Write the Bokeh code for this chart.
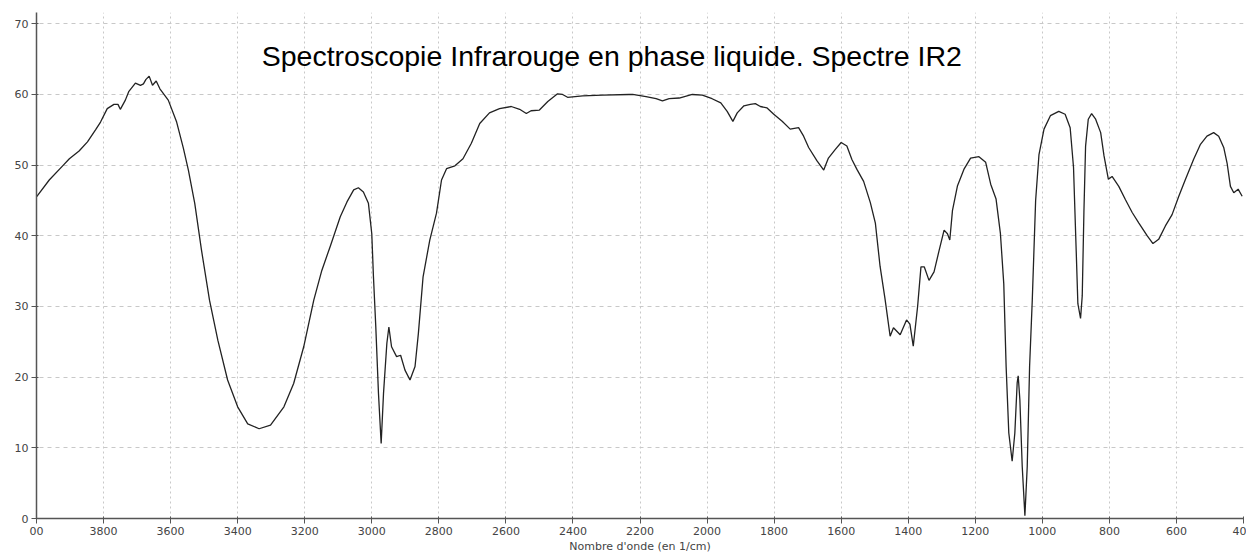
from bokeh.plotting import figure
from bokeh.models import Range1d, FixedTicker, Label
from bokeh.embed import file_html
from bokeh.resources import INLINE

# Wavenumber (1/cm) and transmittance (%)
wavenumber = [
    4000, 3962, 3922, 3902, 3873, 3848, 3824, 3809, 3789, 3769, 3757, 3750, 3735, 3725,
    3705, 3690, 3681, 3674, 3664, 3654, 3643, 3632, 3607, 3582, 3562, 3547, 3528, 3508,
    3484, 3459, 3430, 3400, 3370, 3336, 3302, 3262, 3233, 3203, 3173, 3149,
    3124, 3094, 3074, 3054, 3040, 3025, 3010, 3000, 2995, 2988, 2980, 2972, 2965, 2955,
    2949, 2941, 2926, 2914, 2901, 2886, 2871, 2861, 2847, 2827, 2807, 2792, 2777, 2752,
    2728, 2703, 2678, 2649, 2619, 2584, 2559, 2539, 2525, 2500, 2475, 2446, 2431, 2416,
    2371, 2312, 2233,
    2222, 2182, 2152, 2133, 2113, 2083, 2044, 2014, 1985, 1959, 1940, 1923, 1910, 1890,
    1871, 1856, 1841, 1821, 1801, 1776, 1752, 1727, 1712, 1697, 1672, 1652, 1638, 1618,
    1600, 1583, 1568, 1553, 1533, 1513, 1498, 1484, 1469, 1454, 1444, 1424, 1405, 1395,
    1385,
    1372, 1362, 1352, 1338, 1323, 1308, 1293, 1283, 1276, 1268, 1253, 1234, 1214, 1189,
    1169, 1154, 1138, 1125, 1115, 1108, 1100, 1090, 1082, 1075, 1072, 1067, 1060, 1052,
    1045, 1038, 1030, 1020, 1010, 995, 976, 951, 932, 917, 907, 899, 894,
    886, 881, 876, 871, 863, 853, 841, 826, 816, 803, 792, 772, 752, 732, 712, 687, 670,
    653, 633, 613, 593, 573, 549, 529, 509, 489, 474, 459, 449, 439, 429, 416, 404,
]
transmittance = [
    45.5, 47.9, 49.9, 50.9, 52.0, 53.3, 55.0, 56.1, 58.0, 58.6, 58.6, 57.9, 59.2, 60.4,
    61.6, 61.3, 61.5, 62.1, 62.6, 61.3, 61.9, 60.8, 59.2, 56.1, 52.4, 49.3, 44.6, 38.0,
    30.9, 25.2, 19.6, 15.8, 13.4, 12.7, 13.2, 15.8, 19.1, 24.3, 30.9, 35.1,
    38.5, 42.7, 44.8, 46.5, 46.8, 46.2, 44.6, 40.3, 34.2, 27.1, 17.7, 10.6, 17.7, 24.8,
    27.1, 24.3, 22.9, 23.1, 21.0, 19.6, 21.5, 26.2, 34.2, 39.4, 43.2, 47.9, 49.5, 49.9,
    50.9, 53.1, 55.9, 57.4, 58.0, 58.3, 57.9, 57.3, 57.7, 57.8, 59.0, 60.1, 60.0, 59.6,
    59.8, 59.9, 60.0,
    60.0, 59.7, 59.4, 59.1, 59.4, 59.5, 60.0, 59.9, 59.4, 58.8, 57.6, 56.2, 57.4, 58.4,
    58.6, 58.7, 58.3, 58.1, 57.2, 56.2, 55.1, 55.3, 54.1, 52.5, 50.6, 49.3, 51.0, 52.2,
    53.2, 52.7, 50.8, 49.4, 47.7, 44.7, 41.8, 35.7, 31.0, 25.8, 27.0, 26.0, 28.1, 27.5,
    24.4,
    30.0, 35.6, 35.6, 33.7, 34.9, 37.9, 40.8, 40.3, 39.4, 43.6, 47.1, 49.4, 51.0, 51.2,
    50.4, 47.3, 45.2, 40.3, 33.2, 21.5, 12.1, 8.1, 12.1, 19.2, 20.2, 16.8, 7.4, 0.4,
    7.4, 21.5, 30.9, 45.0, 51.5, 55.1, 57.0, 57.6, 57.2, 55.3, 49.7, 37.9, 30.4,
    28.3, 31.5, 43.3, 52.7, 56.5, 57.3, 56.5, 54.6, 51.3, 48.0, 48.4, 47.0, 45.1, 43.3,
    41.8, 40.0, 38.9, 39.5, 41.4, 43.0, 45.6, 48.0, 50.8, 52.9, 54.1, 54.6, 54.1, 52.5,
    50.3, 47.0, 46.1, 46.6, 45.6,
]

x_ticks = list(range(4000, 399, -200))
y_ticks = [0, 10, 20, 30, 40, 50, 60, 70]
x_label_overrides = {4000: "00", 400: "40"}

title_text = "Spectroscopie Infrarouge en phase liquide. Spectre IR2"
x_axis_label = "Nombre d'onde (en 1/cm)"

p = figure(width=1246, height=555, output_backend="svg", toolbar_location=None,
           x_range=Range1d(4000, 400), y_range=Range1d(0, 71.6),
           min_border_left=36, min_border_right=3, min_border_top=12, min_border_bottom=0)
p.outline_line_color = None
p.background_fill_color = "white"

p.line(wavenumber, transmittance, line_color="#222222", line_width=1.3)

p.xaxis.ticker = FixedTicker(ticks=x_ticks)
p.yaxis.ticker = FixedTicker(ticks=y_ticks)
p.xaxis.major_label_overrides = x_label_overrides
p.xaxis.axis_label = x_axis_label

for ax in (p.xaxis, p.yaxis):
    ax.axis_line_color = "#555555"
    ax.axis_line_width = 1.5
    ax.major_tick_line_color = "#555555"
    ax.major_tick_in = 2
    ax.major_tick_out = 5
    ax.minor_tick_line_color = None
    ax.major_label_text_font = "DejaVu Sans"
    ax.major_label_text_font_size = "11px"
    ax.major_label_text_color = "#444444"
    ax.major_label_standoff = 3
    ax.axis_label_text_font = "DejaVu Sans"
    ax.axis_label_text_font_size = "11px"
    ax.axis_label_text_font_style = "normal"
    ax.axis_label_text_color = "#444444"
    ax.axis_label_standoff = 2

p.xgrid.grid_line_color = "#c8c8c8"
p.xgrid.grid_line_dash = "2 3"
p.ygrid.grid_line_color = "#c8c8c8"
p.ygrid.grid_line_dash = "4 4"

p.add_layout(Label(x=2284, y=65.5, text=title_text, text_align="center",
                   text_baseline="alphabetic", text_font="Liberation Sans",
                   text_font_size="28.5px", text_color="#000000"))

open("out.html", "w").write(file_html(p, INLINE))
